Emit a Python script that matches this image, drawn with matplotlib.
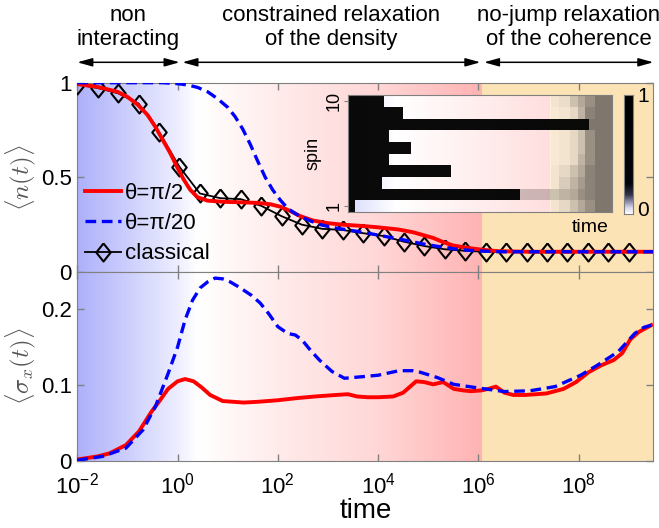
import matplotlib.pyplot as plt
import numpy as np
from matplotlib.colors import LinearSegmentedColormap
from matplotlib.transforms import blended_transform_factory

plt.rcParams['font.family'] = ['Liberation Sans', 'DejaVu Sans']
plt.rcParams['mathtext.fontset'] = 'custom'
plt.rcParams['mathtext.rm'] = 'Liberation Sans'
plt.rcParams['mathtext.it'] = 'Liberation Sans:italic'

# ---- data (log10 of time, value) ----
logt_n_half = [-2.0, -1.6, -1.2, -1.0, -0.8, -0.6, -0.45, -0.3, -0.15, 0.0, 0.12, 0.25,
               0.4, 0.6, 0.9, 1.3, 1.6, 1.85, 2.05, 2.25, 2.45, 2.7, 3.0, 3.3, 3.7,
               4.0, 4.4, 4.7, 4.9, 5.1, 5.3, 5.5, 5.8, 6.1, 6.4, 7.0, 9.5]
n_half = [0.993, 0.978, 0.952, 0.925, 0.885, 0.83, 0.77, 0.70, 0.63, 0.55, 0.49, 0.435,
          0.395, 0.377, 0.371, 0.368, 0.365, 0.358, 0.345, 0.322, 0.295, 0.272, 0.258,
          0.25, 0.243, 0.236, 0.225, 0.21, 0.195, 0.18, 0.158, 0.14, 0.127, 0.117,
          0.11, 0.107, 0.107]

logt_n_20 = [-2.0, -0.3, 0.0, 0.2, 0.4, 0.6, 0.8, 1.0, 1.15, 1.3, 1.45, 1.6, 1.75, 1.9,
             2.05, 2.2, 2.4, 2.6, 2.85, 3.1, 3.4, 3.7, 4.0, 4.3, 4.6, 4.9, 5.2, 5.5,
             5.8, 6.1, 6.5, 9.5]
n_20 = [1.0, 1.0, 0.995, 0.988, 0.975, 0.952, 0.915, 0.87, 0.82, 0.755, 0.675, 0.585,
        0.50, 0.433, 0.38, 0.335, 0.30, 0.275, 0.25, 0.235, 0.222, 0.21, 0.195, 0.18,
        0.165, 0.148, 0.135, 0.123, 0.115, 0.11, 0.107, 0.107]

t_classical = np.logspace(-2, 9, 28)
n_classical = [0.99, 0.972, 0.944, 0.89, 0.74, 0.556, 0.415, 0.39, 0.385, 0.35, 0.295,
               0.25, 0.228, 0.222, 0.205, 0.19, 0.16, 0.137, 0.12, 0.112, 0.107, 0.107,
               0.107, 0.107, 0.107, 0.107, 0.107, 0.107]

logt_sx_half = [-2.0, -1.6, -1.36, -1.03, -0.77, -0.52, -0.35, -0.19, 0.0, 0.15, 0.32,
                0.48, 0.65, 0.9, 1.32, 1.6, 1.99, 2.4, 2.74, 3.16, 3.4, 3.58, 3.8, 4.0,
                4.3, 4.5, 4.76, 4.92, 5.1, 5.3, 5.51, 5.7, 5.85, 6.06, 6.2, 6.35, 6.52,
                6.7, 6.94, 7.36, 7.7, 7.95, 8.2, 8.45, 8.7, 8.87, 9.03, 9.2, 9.45]
sx_half = [0.002, 0.006, 0.010, 0.021, 0.039, 0.065, 0.080, 0.095, 0.105, 0.108, 0.105,
           0.097, 0.087, 0.079, 0.077, 0.078, 0.080, 0.083, 0.085, 0.087, 0.088, 0.085,
           0.084, 0.084, 0.085, 0.090, 0.105, 0.104, 0.101, 0.104, 0.095, 0.093, 0.092,
           0.093, 0.095, 0.098, 0.090, 0.087, 0.087, 0.089, 0.095, 0.104, 0.117, 0.126,
           0.133, 0.142, 0.160, 0.170, 0.179]

logt_sx_20 = [-2.0, -1.5, -1.03, -0.69, -0.44, -0.19, 0.0, 0.15, 0.3, 0.45, 0.6, 0.75,
              0.9, 1.05, 1.23, 1.48, 1.65, 1.82, 2.0, 2.2, 2.35, 2.49, 2.65, 2.83, 3.08,
              3.33, 3.67, 4.0, 4.42, 4.7, 4.84, 5.18, 5.51, 6.02, 6.52, 7.03, 7.53,
              8.04, 8.37, 8.79, 9.12, 9.3, 9.45]
sx_20 = [0.001, 0.006, 0.017, 0.041, 0.072, 0.115, 0.150, 0.186, 0.212, 0.228, 0.236,
         0.241, 0.240, 0.236, 0.229, 0.218, 0.208, 0.194, 0.177, 0.168, 0.166, 0.159,
         0.146, 0.133, 0.118, 0.109, 0.111, 0.113, 0.119, 0.119, 0.117, 0.110, 0.101,
         0.096, 0.0915, 0.0925, 0.098, 0.113, 0.126, 0.144, 0.168, 0.176, 0.179]

# inset: spins 1..10, fraction of inset time axis where each spin leaves the dark state
spin_switch = [0.025, 0.652, 0.127, 0.39, 0.156, 0.237, 0.156, 0.911, 0.209, 0.137]
spin_mid = [0.0, 0.2, 0.0, 0.0, 0.0, 0.0, 0.0, 0.0, 0.0, 0.0]
late_edges = [0.768, 0.80, 0.842, 0.87, 0.899, 0.937, 1.0]
spin_late = [[0.05, 0.10, 0.20, 0.30, 0.40, 0.50],
             [0.20, 0.25, 0.30, 0.40, 0.45, 0.50],
             [0.05, 0.15, 0.25, 0.35, 0.45, 0.50],
             [0.05, 0.10, 0.20, 0.30, 0.45, 0.50],
             [0.03, 0.05, 0.10, 0.25, 0.40, 0.50],
             [0.03, 0.05, 0.10, 0.20, 0.40, 0.50],
             [0.03, 0.05, 0.10, 0.20, 0.40, 0.50],
             [0.50, 0.50, 0.50, 0.50, 0.50, 0.50],
             [0.03, 0.05, 0.10, 0.25, 0.45, 0.50],
             [0.05, 0.08, 0.20, 0.30, 0.40, 0.50]]

t_min, t_max, t_switch = 1e-2, 3.1e9, 1.2e6
xticks = [1e-2, 1e0, 1e2, 1e4, 1e6, 1e8]
xticklabels = ['10$^{-2}$', '10$^{0}$', '10$^{2}$', '10$^{4}$', '10$^{6}$', '10$^{8}$']

# background colours
bg_keys = [(-2.0, (0.68, 0.69, 0.98)), (-1.0, (0.80, 0.81, 0.99)), (0.0, (0.93, 0.93, 1.0)),
           (0.4, (1.0, 1.0, 1.0)), (2.0, (1.0, 0.92, 0.92)), (4.0, (1.0, 0.84, 0.84)),
           (np.log10(t_switch), (1.0, 0.70, 0.70))]
lo, hi = bg_keys[0][0], bg_keys[-1][0]
bg_cmap = LinearSegmentedColormap.from_list('bg', [((k - lo) / (hi - lo), c) for k, c in bg_keys])
yellow = (0.99, 0.89, 0.71)
spine_col = '#808080'
diamond = [(0, 1), (0.8, 0), (0, -1), (-0.8, 0), (0, 1)]


def paint_background(ax, y0, y1):
    edges = np.logspace(lo, hi, 300)
    mid = (np.log10(edges[:-1]) + np.log10(edges[1:])) / 2
    ax.pcolormesh(edges, [y0, y1], mid[None, :], cmap=bg_cmap, vmin=lo, vmax=hi,
                  shading='flat', zorder=0, rasterized=True)
    ax.axvspan(t_switch, t_max, color=yellow, lw=0, zorder=0)


def style_axes(ax):
    ax.set_xscale('log')
    ax.set_xlim(t_min, t_max)
    ax.set_xticks(xticks)
    ax.minorticks_off()
    ax.tick_params(direction='in', length=5, width=1, color=spine_col, labelsize=16,
                   top=True, right=True, pad=4)
    ax.tick_params(axis='x', pad=8)
    for s in ax.spines.values():
        s.set_color(spine_col)


fig = plt.figure(figsize=(6.59, 5.28), dpi=100)
ax1 = fig.add_axes([0.1173, 0.4848, 0.8741, 0.3586])
ax2 = fig.add_axes([0.1173, 0.1269, 0.8741, 0.3579])

# top: density
paint_background(ax1, 0, 1)
style_axes(ax1)
l_cl, = ax1.plot(t_classical, n_classical, color='k', lw=1.3, marker=diamond, ms=13,
                 mfc='none', mec='k', mew=1.5, zorder=3)
l_h, = ax1.plot(10 ** np.array(logt_n_half), n_half, color='red', lw=2.8, zorder=4)
l_20, = ax1.plot(10 ** np.array(logt_n_20), n_20, color='blue', lw=2.4,
                 dashes=(3.2, 1.7), zorder=5)
ax1.set_ylim(0, 1)
ax1.set_yticks([0, 0.5, 1], ['0', '0.5', '1'])
ax1.set_xticklabels([])
ax1.set_ylabel(r'$\langle n(t)\rangle$', fontsize=18, color='#555555', math_fontfamily='cm')
ax1.yaxis.set_label_coords(-0.068, 0.5)
ax1.legend([l_h, l_20, l_cl], ['θ=π/2', 'θ=π/20', 'classical'], loc='lower left',
           bbox_to_anchor=(0.014, 0.04), frameon=False, fontsize=16, handlelength=1.6,
           handletextpad=0.2, labelspacing=0.42, borderaxespad=0, borderpad=0)

# bottom: coherence
paint_background(ax2, 0, 0.25)
style_axes(ax2)
ax2.plot(10 ** np.array(logt_sx_half), sx_half, color='red', lw=2.8, zorder=4)
ax2.plot(10 ** np.array(logt_sx_20), sx_20, color='blue', lw=2.4, dashes=(3.2, 1.7), zorder=5)
ax2.set_ylim(0, 0.249)
ax2.set_yticks([0, 0.1, 0.2], ['0', '0.1', '0.2'])
ax2.set_xticklabels(xticklabels)
ax2.set_xlabel('time', fontsize=20, labelpad=0)
ax2.set_ylabel(r'$\langle \sigma_x(t)\rangle$', fontsize=18, color='#555555', math_fontfamily='cm')
ax2.yaxis.set_label_coords(-0.068, 0.5)

# regime annotations above the top panel
tr = blended_transform_factory(ax1.transData, fig.transFigure)
regimes = [(t_min, 1.1, 'non\ninteracting'),
           (1.25, 1.1e6, 'constrained relaxation\nof the density'),
           (1.3e6, t_max, 'no-jump relaxation\nof the coherence')]
for a, b, label in regimes:
    ax1.annotate('', xy=(b, 0.882), xytext=(a, 0.882), xycoords=tr, textcoords=tr,
                 annotation_clip=False,
                 arrowprops=dict(arrowstyle='<|-|>,head_length=0.9,head_width=0.25',
                                 color='k', lw=1.1, shrinkA=0, shrinkB=0))
    ax1.text(np.sqrt(a * b), 0.948, label, transform=tr, ha='center', va='center',
             fontsize=16, linespacing=1.2)

# inset: spin occupation vs time
ins = fig.add_axes([0.5285, 0.5985, 0.3997, 0.221])
xg = np.linspace(0, 1, 265)
xc = (xg[:-1] + xg[1:]) / 2
ins_bg = LinearSegmentedColormap.from_list('ibg', [(0, (0.85, 0.86, 0.99)), (0.18, (1, 1, 1)),
                                                   (0.768, (1.0, 0.87, 0.87)),
                                                   (0.768, (1.0, 0.94, 0.86)),
                                                   (1.0, (1.0, 0.94, 0.86))])
ins.pcolormesh(xg, [0.5, 10.5], xc[None, :], cmap=ins_bg, vmin=0, vmax=1, rasterized=True)
occ = np.zeros((10, xc.size))
for i in range(10):
    row = np.where(xc < late_edges[0], spin_mid[i], 0.0)
    for j in range(len(late_edges) - 1):
        seg = (xc >= late_edges[j]) & (xc < late_edges[j + 1])
        row[seg] = spin_late[i][j]
    row[xc < spin_switch[i]] = 0.96
    occ[i] = row
black_alpha = LinearSegmentedColormap.from_list('ka', [(0, 0, 0, 0), (0, 0, 0, 1)])
ins.pcolormesh(xg, np.arange(0.5, 11), occ, cmap=black_alpha, vmin=0, vmax=1, rasterized=True)
ins.set_xlim(0, 1)
ins.set_ylim(0.5, 10.5)
ins.set_xticks([])
ins.set_yticks([1, 10], ['1', '10'])
ins.tick_params(axis='y', direction='out', length=3, color=spine_col, labelsize=13, pad=1)
for lab in ins.get_yticklabels():
    lab.set_rotation(90)
    lab.set_va('center')
ins.set_ylabel('spin', fontsize=13, labelpad=3)
for s in ins.spines.values():
    s.set_color(spine_col)
fig.text(590 / 659, 1 - 227 / 528, 'time', ha='center', va='center', fontsize=14)

# inset colour bar
cax = fig.add_axes([0.947, 0.5947, 0.0141, 0.2254])
cb_cmap = LinearSegmentedColormap.from_list('cb', [(0, (1, 1, 1)), (0.05, (0.85, 0.85, 0.93)),
                                                   (0.1, (0.55, 0.55, 0.68)),
                                                   (0.16, (0.2, 0.2, 0.28)),
                                                   (0.25, (0.02, 0.02, 0.05)), (1, (0, 0, 0))])
cax.imshow(np.linspace(0, 1, 256)[:, None], cmap=cb_cmap, origin='lower', aspect='auto',
           extent=[0, 1, 0, 1])
cax.set_xticks([])
cax.set_yticks([])
for s in cax.spines.values():
    s.set_color(spine_col)
fig.text(643 / 659, 1 - 97 / 528, '1', ha='center', va='center', fontsize=15)
fig.text(643 / 659, 1 - 211 / 528, '0', ha='center', va='center', fontsize=15)

fig.savefig('out.png', dpi=100)
